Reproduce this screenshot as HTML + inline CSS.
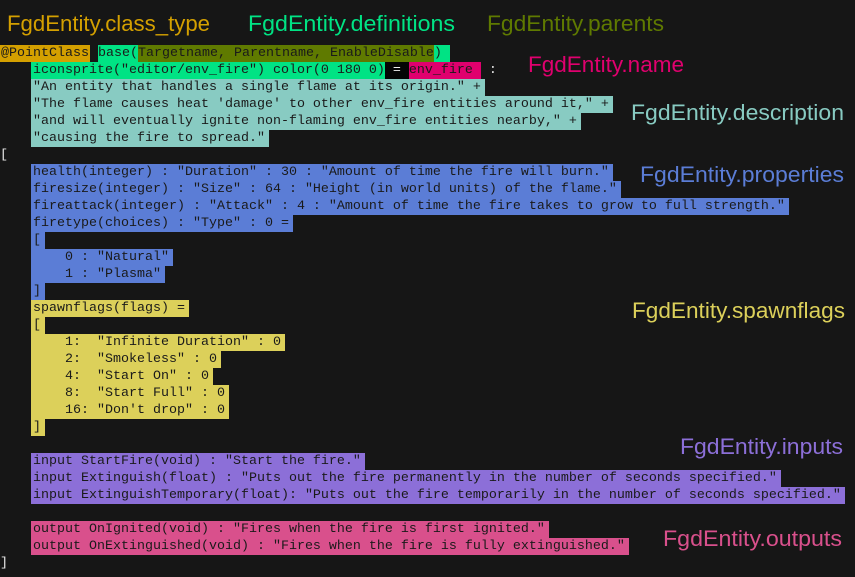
<!DOCTYPE html>
<html><head><meta charset="utf-8">
<style>
html,body{margin:0;padding:0;}
body{width:855px;height:577px;background:#161616;position:relative;overflow:hidden;font-family:"Liberation Mono",monospace;font-size:13.33px;}
.ln{position:absolute;left:0;height:17px;line-height:18px;white-space:pre;color:#e8e8e8;}
.ln span{display:inline-block;height:17px;color:#1a1a1a;}
.in{left:31px;}
.in > span{padding-left:2px;padding-right:4px;}
.ct{background:#d4a000;}
.df{background:#00e384;}
.pa{background:#5f7a00;}
.nm{background:#e0006e;}
.eq{background:#050505;color:#f0f0f0 !important;}
.ds{background:#88cbc2;}
.pr{background:#5b7dd6;}
.sf{background:#dcd05a;}
.ip{background:#8c6fd8;}
.op{background:#d9508c;}
.pl{color:#e8e8e8 !important;}
svg{position:absolute;left:0;top:0;}
</style></head>
<body>
<svg width="855" height="577" style="font-family:'Liberation Sans',sans-serif;font-size:22px;">
<text x="7" y="31" textLength="203" lengthAdjust="spacingAndGlyphs" fill="#d4a000">FgdEntity.class_type</text>
<text x="248" y="31" textLength="207" lengthAdjust="spacingAndGlyphs" fill="#00e384">FgdEntity.definitions</text>
<text x="487" y="31" textLength="177" lengthAdjust="spacingAndGlyphs" fill="#5f7a00">FgdEntity.parents</text>
<text x="528" y="72" textLength="156" lengthAdjust="spacingAndGlyphs" fill="#e0006e">FgdEntity.name</text>
<text x="631" y="120" textLength="213" lengthAdjust="spacingAndGlyphs" fill="#88cbc2">FgdEntity.description</text>
<text x="640" y="182" textLength="204" lengthAdjust="spacingAndGlyphs" fill="#5b7dd6">FgdEntity.properties</text>
<text x="632" y="318" textLength="213" lengthAdjust="spacingAndGlyphs" fill="#dcd05a">FgdEntity.spawnflags</text>
<text x="680" y="454" textLength="163" lengthAdjust="spacingAndGlyphs" fill="#8c6fd8">FgdEntity.inputs</text>
<text x="663" y="546" textLength="179" lengthAdjust="spacingAndGlyphs" fill="#d9508c">FgdEntity.outputs</text>
</svg>

<div class="ln" style="top:45px"><span class="ct" style="padding:0 1px">@PointClass</span> <span class="df">base(</span><span class="pa">Targetname, Parentname, EnableDisable</span><span class="df">) </span></div>
<div class="ln" style="top:62px;left:31px"><span class="df" style="padding-left:2px">iconsprite("editor/env_fire") color(0 180 0)</span><span class="eq"> = </span><span class="nm" style="padding-right:8px">env_fire</span><span class="pl"> :</span></div>
<div class="ln in" style="top:79px"><span class="ds">"An entity that handles a single flame at its origin." +</span></div>
<div class="ln in" style="top:96px"><span class="ds">"The flame causes heat 'damage' to other env_fire entities around it," +</span></div>
<div class="ln in" style="top:113px"><span class="ds">"and will eventually ignite non-flaming env_fire entities nearby," +</span></div>
<div class="ln in" style="top:130px"><span class="ds">"causing the fire to spread."</span></div>
<div class="ln" style="top:147px">[</div>

<div class="ln in" style="top:164px"><span class="pr">health(integer) : "Duration" : 30 : "Amount of time the fire will burn."</span></div>
<div class="ln in" style="top:181px"><span class="pr">firesize(integer) : "Size" : 64 : "Height (in world units) of the flame."</span></div>
<div class="ln in" style="top:198px"><span class="pr">fireattack(integer) : "Attack" : 4 : "Amount of time the fire takes to grow to full strength."</span></div>
<div class="ln in" style="top:215px"><span class="pr">firetype(choices) : "Type" : 0 =</span></div>
<div class="ln in" style="top:232px"><span class="pr">[</span></div>
<div class="ln in" style="top:249px"><span class="pr">    0 : "Natural"</span></div>
<div class="ln in" style="top:266px"><span class="pr">    1 : "Plasma"</span></div>
<div class="ln in" style="top:283px"><span class="pr">]</span></div>

<div class="ln in" style="top:300px"><span class="sf">spawnflags(flags) =</span></div>
<div class="ln in" style="top:317px"><span class="sf">[</span></div>
<div class="ln in" style="top:334px"><span class="sf">    1:  "Infinite Duration" : 0</span></div>
<div class="ln in" style="top:351px"><span class="sf">    2:  "Smokeless" : 0</span></div>
<div class="ln in" style="top:368px"><span class="sf">    4:  "Start On" : 0</span></div>
<div class="ln in" style="top:385px"><span class="sf">    8:  "Start Full" : 0</span></div>
<div class="ln in" style="top:402px"><span class="sf">    16: "Don't drop" : 0</span></div>
<div class="ln in" style="top:419px"><span class="sf">]</span></div>

<div class="ln in" style="top:453px"><span class="ip">input StartFire(void) : "Start the fire."</span></div>
<div class="ln in" style="top:470px"><span class="ip">input Extinguish(float) : "Puts out the fire permanently in the number of seconds specified."</span></div>
<div class="ln in" style="top:487px"><span class="ip">input ExtinguishTemporary(float): "Puts out the fire temporarily in the number of seconds specified."</span></div>

<div class="ln in" style="top:521px"><span class="op">output OnIgnited(void) : "Fires when the fire is first ignited."</span></div>
<div class="ln in" style="top:538px"><span class="op">output OnExtinguished(void) : "Fires when the fire is fully extinguished."</span></div>
<div class="ln" style="top:555px">]</div>
</body></html>
